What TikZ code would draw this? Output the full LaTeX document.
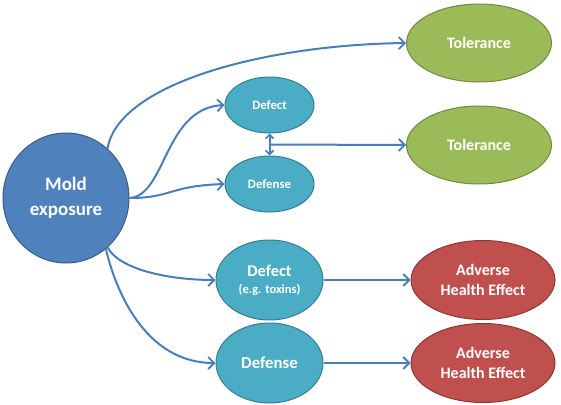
\documentclass[tikz,border=0pt]{standalone}
\usepackage{fontspec}
\setmainfont{Carlito}
\usetikzlibrary{shapes.geometric,arrows.meta,calc}
\definecolor{moldblue}{HTML}{4F81BD}
\definecolor{moldedge}{HTML}{385D8A}
\definecolor{tealfill}{HTML}{4BACC6}
\definecolor{tealedge}{HTML}{357D91}
\definecolor{greenfill}{HTML}{9BBB59}
\definecolor{greenedge}{HTML}{71893F}
\definecolor{redfill}{HTML}{C0504D}
\definecolor{rededge}{HTML}{8C3836}
\definecolor{linkblue}{HTML}{4A7EBB}

\tikzset{
  blob/.style={ellipse,inner sep=0pt,line width=1pt,text=white,
    align=center},
  moldblob/.style={blob,fill=moldblue,draw=moldedge,
    minimum width=126pt,minimum height=130pt},
  smallblob/.style={blob,fill=tealfill,draw=tealedge,
    minimum width=89pt,minimum height=56pt},
  bigblob/.style={blob,fill=tealfill,draw=tealedge,
    minimum width=107pt,minimum height=80pt},
  tolblob/.style={blob,fill=greenfill,draw=greenedge,
    minimum width=145pt,minimum height=78pt},
  badblob/.style={blob,fill=redfill,draw=rededge,
    minimum width=144pt,minimum height=79pt},
  link/.style={draw=linkblue,line width=2pt,
    -{Straight Barb[length=6pt,width=12pt,line width=1.8pt]}},
}
\newcommand{\sz}[2]{\bfseries\fontsize{#1}{#2}\selectfont}

\begin{document}
\begin{tikzpicture}[x=1pt,y=-1pt]
        \useasboundingbox (0,0) rectangle (561,404);
        \def\xleft{66}
        \def\xmid{269.5}
        \def\xright{479}

        \node[moldblob,font=\sz{19}{25}] (mold) at (\xleft,198)
            {Mold\\exposure};

        \node[tolblob,font=\sz{16}{20}] (tolTop) at (\xright,43) {Tolerance};
        \node[tolblob,font=\sz{16}{20}] (tolMid) at (\xright,145) {Tolerance};

        \node[smallblob,font=\sz{12.8}{15}] (defectS) at (\xmid,105) {Defect};
        \node[smallblob,font=\sz{12.8}{15}] (defenseS) at (\xmid,184) {Defense};

        \node[bigblob,font=\sz{16.4}{17}] (defectL) at (\xmid,280)
            {Defect\\[0pt]{\sz{12.5}{14}(e.g. toxins)}};
        \node[bigblob,font=\sz{16.8}{20}] (defenseL) at (\xmid,363) {Defense};

        \node[badblob,font=\sz{16}{20}] (adverseA) at (483,280)
            {Adverse\\Health Effect};
        \node[badblob,font=\sz{16}{20}] (adverseB) at (483,363)
            {Adverse\\Health Effect};

        % branches out of the mold node
        \draw[link] (mold.50) .. controls (118,85) and (260,45) .. (tolTop.west);
        \draw[link] (mold.east) .. controls (166,196) and (164,108) .. (defectS.west);
        \draw[link] (mold.east) .. controls (172,198) and (168,186) .. (defenseS.west);
        \draw[link] (mold.-50) .. controls (120,270) and (170,280) .. (defectL.west);
        \draw[link] (mold.-52) .. controls (118,300) and (150,363) .. (defenseL.west);

        \coordinate (pair) at ($(defectS.south)!0.5!(defenseS.north)$);
        \draw[link,{Straight Barb[length=4pt,width=8pt,line width=1.6pt]}-{Straight Barb[length=4pt,width=8pt,line width=1.6pt]}]
            (defectS.south) -- (defenseS.north);
        \draw[link] (pair) -- (tolMid.west);

        \draw[link] (defectL.east) -- (adverseA.west);
        \draw[link] (defenseL.east) -- (adverseB.west);
    \end{tikzpicture}
\end{document}
